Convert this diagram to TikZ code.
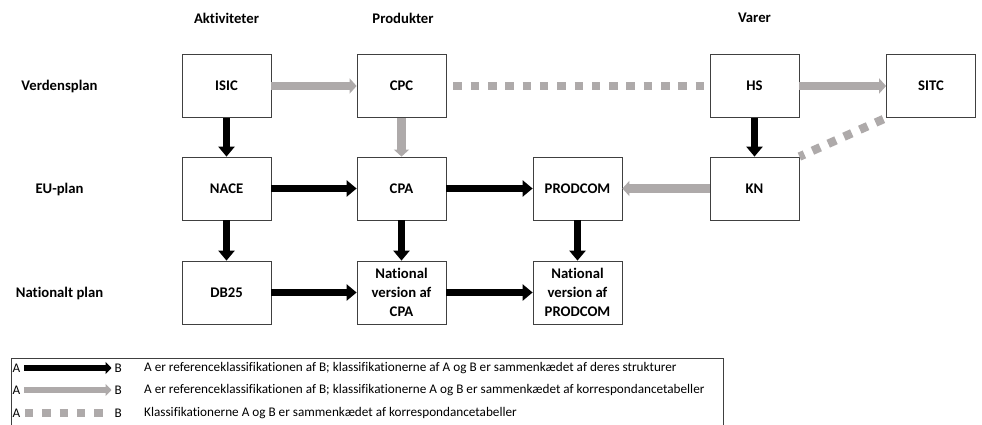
\documentclass[tikz,border=0pt]{standalone}
\usepackage{fontspec}
\setmainfont[Ligatures=NoCommon]{Carlito}
\usetikzlibrary{arrows.meta}
\definecolor{arrgray}{HTML}{AEAAAA}
\definecolor{boxline}{HTML}{404040}
\tikzset{
  lbl/.style={font=\fontsize{14.7}{18.5}\selectfont\bfseries, inner sep=0pt, align=center},
  cbox/.style={draw=boxline, line width=0.8pt, minimum width=89pt, minimum height=63pt, inner sep=0pt, align=center, font=\fontsize{14.7}{18.8}\selectfont\bfseries},
  blk/.style={draw=black, line width=7.5pt, -{Triangle[length=10pt,width=16pt]}},
  gry/.style={draw=arrgray, line width=8.5pt, -{Triangle[length=7pt,width=15pt]}},
  dsh/.style={draw=arrgray, line width=8.5pt, dash pattern=on 8.5pt off 8.8pt},
  legtxt/.style={font=\fontsize{13.2}{15}\selectfont, inner sep=0pt, anchor=west},
  lblk/.style={draw=black, line width=6pt, -{Triangle[length=6pt,width=12pt]}},
  lgry/.style={draw=arrgray, line width=6pt, -{Triangle[length=6pt,width=12pt]}},
  ldsh/.style={draw=arrgray, line width=8pt, dash pattern=on 8.3pt off 9pt}
}
\begin{document}
\begin{tikzpicture}[x=1pt,y=-1pt]
\useasboundingbox (0,0) rectangle (982,425);
% headers
\node[lbl] (hakt) at (226.5,18) {Aktiviteter};
\node[lbl] (hprod) at (403,18) {Produkter};
\node[lbl] (hvar) at (754.5,18) {Varer};
\node[lbl] (rverd) at (59.5,86) {Verdensplan};
\node[lbl] (reu) at (59.5,189) {EU-plan};
\node[lbl] (rnat) at (59.5,293) {Nationalt plan};
% boxes
\node[cbox] (isic) at (226.5,86) {ISIC};
\node[cbox] (cpc) at (401.5,86) {CPC};
\node[cbox] (hs) at (754.5,86) {HS};
\node[cbox] (sitc) at (931,86) {SITC};
\node[cbox] (nace) at (226.5,188.5) {NACE};
\node[cbox] (cpa) at (401.5,188.5) {CPA};
\node[cbox] (prodcom) at (577.5,188.5) {PRODCOM};
\node[cbox] (kn) at (754.5,188.5) {KN};
\node[cbox] (db) at (226.5,292.5) {DB25};
\node[cbox] (ncpa) at (401.5,292.5) {National\\version af\\CPA};
\node[cbox] (nprod) at (577.5,292.5) {National\\version af\\PRODCOM};
% arrows
\draw[gry] (isic) -- (cpc);
\draw[gry] (cpc) -- (cpa);
\draw[gry] (hs) -- (sitc);
\draw[gry] (kn) -- (prodcom);
\draw[dsh, shorten <=7pt, shorten >=5pt] (cpc.east) -- (hs.west);
\draw[dsh, shorten <=3pt] (sitc.south west) -- (kn.north east);
\draw[blk] (isic) -- (nace);
\draw[blk] (hs) -- (kn);
\draw[blk] (nace) -- (cpa);
\draw[blk] (cpa) -- (prodcom);
\draw[blk] (nace) -- (db);
\draw[blk] (cpa) -- (ncpa);
\draw[blk] (prodcom) -- (nprod);
\draw[blk] (db) -- (ncpa);
\draw[blk] (ncpa) -- (nprod);
% legend
\draw[boxline, line width=0.8pt] (11,430) -- (11,358) -- (723,358) -- (723,430);
\node[legtxt] (la1) at (12.5,368) {A};
\node[legtxt] (lb1) at (114.5,368) {B};
\node[legtxt] (lt1) at (144,368) {A er referenceklassifikationen af B; klassifikationerne af A og B er sammenkædet af deres strukturer};
\node[legtxt] (la2) at (12.5,390) {A};
\node[legtxt] (lb2) at (114.5,390) {B};
\node[legtxt] (lt2) at (144,390) {A er referenceklassifikationen af B; klassifikationerne A og B er sammenkædet af korrespondancetabeller};
\node[legtxt] (la3) at (12.5,413) {A};
\node[legtxt] (lb3) at (114.5,413) {B};
\node[legtxt] (lt3) at (144,413) {Klassifikationerne A og B er sammenkædet af korrespondancetabeller};
\draw[lblk, shorten <=3.5pt, shorten >=3pt] (la1.east) -- (lb1.west);
\draw[lgry, shorten <=3.5pt, shorten >=3pt] (la2.east) -- (lb2.west);
\draw[ldsh, shorten <=4.5pt, shorten >=7pt] (la3.east) -- (lb3.west);
\end{tikzpicture}
\end{document}
